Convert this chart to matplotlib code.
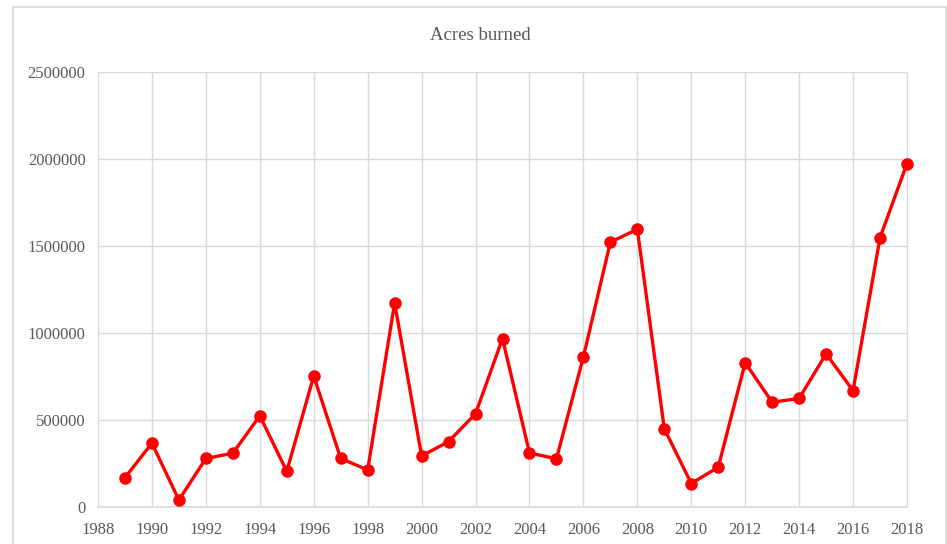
import matplotlib.pyplot as plt
from matplotlib.patches import Rectangle

# data
years = list(range(1989, 2019))
acres = [169000, 367000, 40000, 279000, 309000, 524000, 205000, 753000,
         279000, 213000, 1173000, 293000, 376000, 536000, 968000, 311000,
         277000, 863000, 1522000, 1596000, 450000, 135000, 229000, 829000,
         602000, 624000, 880000, 669000, 1548000, 1974000]
xticks = list(range(1988, 2019, 2))
yticks = [0, 500000, 1000000, 1500000, 2000000, 2500000]

plt.rcParams['font.family'] = ['Liberation Serif', 'DejaVu Serif']

fig = plt.figure(figsize=(9.47, 5.44), dpi=100)
ax = fig.add_axes([98/947, 1-507/544, (907-98)/947, (507-72)/544])

# chart border
fig.patches.append(Rectangle((13/947, -0.05), (946-13)/947, 1.05-7/544,
                             transform=fig.transFigure, fill=False,
                             edgecolor='#d9d9d9', linewidth=1.2))

ax.plot(years, acres, color='#ff0000', linewidth=2.4, marker='o',
        markersize=8, zorder=3, clip_on=False)

ax.set_xlim(1988, 2018)
ax.set_ylim(0, 2500000)
ax.set_xticks(xticks)
ax.set_yticks(yticks)
ax.set_xticklabels([str(t) for t in xticks])
ax.set_yticklabels([str(t) for t in yticks])
ax.grid(True, color='#d9d9d9', linewidth=1)
ax.set_axisbelow(True)
for s in ['top', 'left']:
    ax.spines[s].set_visible(False)
ax.spines['right'].set_color('#d9d9d9')
ax.spines['bottom'].set_color('#d9d9d9')
ax.spines['bottom'].set_linewidth(1.2)
ax.tick_params(length=0, labelsize=12, colors='#595959')
ax.tick_params(axis='x', pad=11)
ax.tick_params(axis='y', pad=9)

fig.text(480/947, 1-35/544, 'Acres burned', ha='center', va='center',
         fontsize=13.5, color='#595959')

fig.savefig('out.png', dpi=100)
